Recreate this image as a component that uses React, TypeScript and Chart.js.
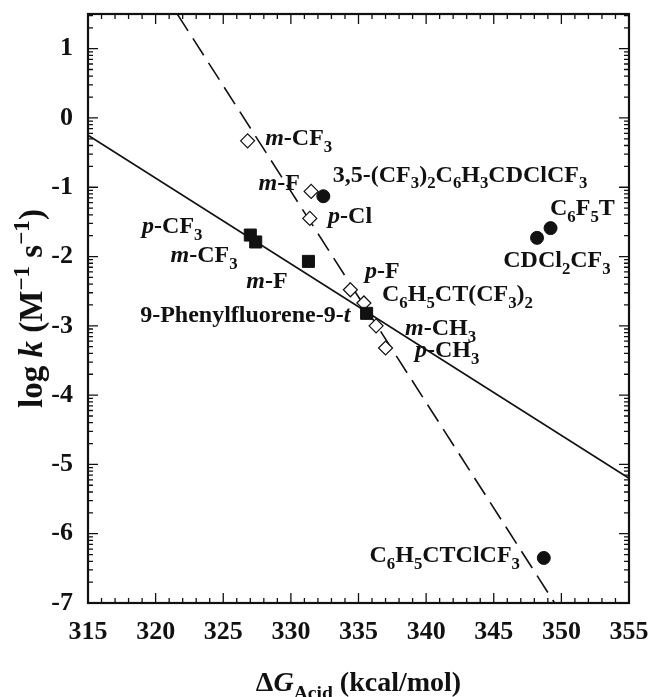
import React, { useEffect, useRef } from 'react';
import { Chart, registerables } from 'chart.js';
Chart.register(...registerables);

// ---- axis definitions ----
const xTicks = [315, 320, 325, 330, 335, 340, 345, 350, 355];
const yTicks = [-7, -6, -5, -4, -3, -2, -1, 0, 1];
const xMin = 315, xMax = 355, yMin = -7, yMax = 1.5;

// ---- data: open diamonds (dashed-line series) ----
const diamondNames = ['m-CF3', 'm-F', 'p-Cl', 'p-F', 'C6H5CT(CF3)2', 'm-CH3', 'p-CH3'];
const diamondX = [326.8, 331.5, 331.4, 334.4, 335.4, 336.3, 337.0];
const diamondY = [-0.33, -1.06, -1.45, -2.48, -2.67, -3.0, -3.32];

// ---- data: filled squares (solid-line series) ----
const squareNames = ['p-CF3', 'm-CF3', 'm-F', '9-Phenylfluorene-9-t'];
const squareX = [327.0, 327.4, 331.3, 335.6];
const squareY = [-1.69, -1.79, -2.07, -2.82];

// ---- data: filled circles ----
const circleNames = ['3,5-(CF3)2C6H3CDClCF3', 'CDCl2CF3', 'C6F5T', 'C6H5CTClCF3'];
const circleX = [332.4, 348.2, 349.2, 348.7];
const circleY = [-1.13, -1.73, -1.59, -6.35];

// ---- fitted lines (end points) ----
const solidLineX = [315, 355];
const solidLineY = [-0.25, -5.2];
const dashedLineX = [321.6, 349.5];
const dashedLineY = [1.5, -7];

// ---- annotation labels ----
type Seg = { t: string; i?: boolean; sub?: boolean; sup?: boolean };
const labelTexts: Seg[][] = [
  [{ t: 'm', i: true }, { t: '-CF' }, { t: '3', sub: true }],
  [{ t: 'm', i: true }, { t: '-F' }],
  [{ t: '3,5-(CF' }, { t: '3', sub: true }, { t: ')' }, { t: '2', sub: true }, { t: 'C' }, { t: '6', sub: true }, { t: 'H' }, { t: '3', sub: true }, { t: 'CDClCF' }, { t: '3', sub: true }],
  [{ t: 'p', i: true }, { t: '-Cl' }],
  [{ t: 'p', i: true }, { t: '-CF' }, { t: '3', sub: true }],
  [{ t: 'm', i: true }, { t: '-CF' }, { t: '3', sub: true }],
  [{ t: 'm', i: true }, { t: '-F' }],
  [{ t: '9-Phenylfluorene-9-' }, { t: 't', i: true }],
  [{ t: 'p', i: true }, { t: '-F' }],
  [{ t: 'C' }, { t: '6', sub: true }, { t: 'H' }, { t: '5', sub: true }, { t: 'CT(CF' }, { t: '3', sub: true }, { t: ')' }, { t: '2', sub: true }],
  [{ t: 'm', i: true }, { t: '-CH' }, { t: '3', sub: true }],
  [{ t: 'p', i: true }, { t: '-CH' }, { t: '3', sub: true }],
  [{ t: 'C' }, { t: '6', sub: true }, { t: 'F' }, { t: '5', sub: true }, { t: 'T' }],
  [{ t: 'CDCl' }, { t: '2', sub: true }, { t: 'CF' }, { t: '3', sub: true }],
  [{ t: 'C' }, { t: '6', sub: true }, { t: 'H' }, { t: '5', sub: true }, { t: 'CTClCF' }, { t: '3', sub: true }],
];
const labelX = [328.1, 330.67, 333.1, 332.75, 319.0, 321.1, 326.7, 334.4, 335.48, 336.74, 338.44, 339.18, 349.16, 345.7, 346.94];
const labelY = [-0.39, -1.04, -0.92, -1.52, -1.66, -2.08, -2.45, -2.94, -2.31, -2.64, -3.13, -3.45, -1.40, -2.15, -6.41];
const labelAlign = ['left', 'right', 'left', 'left', 'left', 'left', 'left', 'right', 'left', 'left', 'left', 'left', 'left', 'left', 'right'];

const xTitle: Seg[] = [{ t: 'Δ' }, { t: 'G', i: true }, { t: 'Acid', sub: true }, { t: ' (kcal/mol)' }];
const yTitle: Seg[] = [{ t: 'log ' }, { t: 'k', i: true }, { t: ' (M' }, { t: '−1', sup: true }, { t: ' s' }, { t: '−1', sup: true }, { t: ')' }];

const INK = '#111';
const FONT = '"Liberation Serif", "Times New Roman", serif';

function segFont(s: Seg, size: number) {
  const sz = s.sub || s.sup ? size * 0.7 : size;
  return `${s.i ? 'italic ' : ''}bold ${sz}px ${FONT}`;
}
function measureRich(ctx: CanvasRenderingContext2D, segs: Seg[], size: number) {
  let w = 0;
  for (const s of segs) { ctx.font = segFont(s, size); w += ctx.measureText(s.t).width; }
  return w;
}
function drawRich(ctx: CanvasRenderingContext2D, segs: Seg[], x: number, y: number, size: number, align: string) {
  const w = measureRich(ctx, segs, size);
  let cx = align === 'right' ? x - w : align === 'center' ? x - w / 2 : x;
  ctx.textAlign = 'left';
  ctx.textBaseline = 'alphabetic';
  for (const s of segs) {
    ctx.font = segFont(s, size);
    const dy = s.sub ? size * 0.28 : s.sup ? -size * 0.4 : 0;
    ctx.fillText(s.t, cx, y + dy);
    cx += ctx.measureText(s.t).width;
  }
}

const decor = {
  id: 'decor',
  afterDraw(chart: any) {
    const { ctx, chartArea: a, scales } = chart;
    const xs = scales.x, ys = scales.y;
    ctx.save();
    ctx.strokeStyle = INK;
    ctx.fillStyle = INK;
    ctx.lineWidth = 1.3;
    ctx.beginPath();
    const xTick = (v: number, len: number) => {
      const px = xs.getPixelForValue(v);
      ctx.moveTo(px, a.bottom); ctx.lineTo(px, a.bottom - len);
      ctx.moveTo(px, a.top); ctx.lineTo(px, a.top + len);
    };
    const yTick = (v: number, len: number) => {
      const py = ys.getPixelForValue(v);
      ctx.moveTo(a.left, py); ctx.lineTo(a.left + len, py);
      ctx.moveTo(a.right, py); ctx.lineTo(a.right - len, py);
    };
    for (let i = 0; i < xTicks.length; i++) {
      xTick(xTicks[i], 10);
      if (i < xTicks.length - 1) for (let v = xTicks[i] + 1; v < xTicks[i + 1]; v++) xTick(v, 5);
    }
    for (let i = 0; i < yTicks.length; i++) {
      yTick(yTicks[i], 10);
      for (let k = 2; k <= 9; k++) {
        const v = yTicks[i] + Math.log10(k);
        if (v < yMax) yTick(v, 5);
      }
    }
    ctx.stroke();
    ctx.lineWidth = 2.2;
    ctx.strokeRect(a.left, a.top, a.right - a.left, a.bottom - a.top);
    for (let i = 0; i < labelTexts.length; i++) {
      drawRich(ctx, labelTexts[i], xs.getPixelForValue(labelX[i]), ys.getPixelForValue(labelY[i]), 24, labelAlign[i]);
    }
    drawRich(ctx, xTitle, (a.left + a.right) / 2, 691, 28, 'center');
    ctx.translate(42, (a.top + a.bottom) / 2);
    ctx.rotate(-Math.PI / 2);
    drawRich(ctx, yTitle, 0, 0, 33, 'center');
    ctx.restore();
  },
};

export default function App() {
  const ref = useRef<HTMLCanvasElement>(null);
  useEffect(() => {
    document.body.style.margin = '0';
    const pts = (xs: number[], ys: number[]) => xs.map((x, i) => ({ x, y: ys[i] }));
    const chart = new Chart(ref.current!, {
      type: 'scatter',
      data: {
        datasets: [
          { label: 'circles', data: pts(circleX, circleY), pointStyle: 'circle', pointRadius: 6.5, backgroundColor: INK, borderColor: INK, borderWidth: 1, order: 0 },
          { label: 'squares', data: pts(squareX, squareY), pointStyle: 'rect', pointRadius: 8.5, backgroundColor: INK, borderColor: INK, borderWidth: 1, order: 1 },
          { label: 'diamonds', data: pts(diamondX, diamondY), pointStyle: 'rectRot', pointRadius: 7, backgroundColor: '#fff', borderColor: INK, borderWidth: 1.2, order: 2 },
          { label: 'solid', data: pts(solidLineX, solidLineY), showLine: true, pointRadius: 0, borderColor: INK, borderWidth: 1.6, order: 3 },
          { label: 'dashed', data: pts(dashedLineX, dashedLineY), showLine: true, pointRadius: 0, borderColor: INK, borderWidth: 1.6, borderDash: [20, 9], order: 4 },
        ],
      },
      options: {
        animation: false,
        responsive: false,
        layout: { padding: { top: 14, right: 20, left: 0, bottom: 0 } },
        plugins: { legend: { display: false }, tooltip: { enabled: false }, title: { display: false } },
        scales: {
          x: {
            type: 'linear', min: xMin, max: xMax,
            afterFit: (s: any) => { s.height = 94; s.paddingLeft = 0; s.paddingRight = 0; },
            afterBuildTicks: (s: any) => { s.ticks = xTicks.map((v) => ({ value: v })); },
            grid: { display: false, drawTicks: false },
            border: { display: false },
            ticks: { color: INK, padding: 14, font: { family: FONT, size: 26, weight: 'bold' }, callback: (v: any) => String(v) },
          },
          y: {
            type: 'linear', min: yMin, max: yMax,
            afterFit: (s: any) => { s.width = 88; s.paddingTop = 0; s.paddingBottom = 0; },
            afterBuildTicks: (s: any) => { s.ticks = yTicks.map((v) => ({ value: v })); },
            grid: { display: false, drawTicks: false },
            border: { display: false },
            ticks: { color: INK, padding: 15, font: { family: FONT, size: 26, weight: 'bold' }, callback: (v: any) => String(v) },
          },
        },
      },
      plugins: [decor],
    });
    return () => chart.destroy();
  }, []);
  return (
    <div style={{ width: 649, height: 697 }}>
      <canvas ref={ref} width={649} height={697} />
    </div>
  );
}
